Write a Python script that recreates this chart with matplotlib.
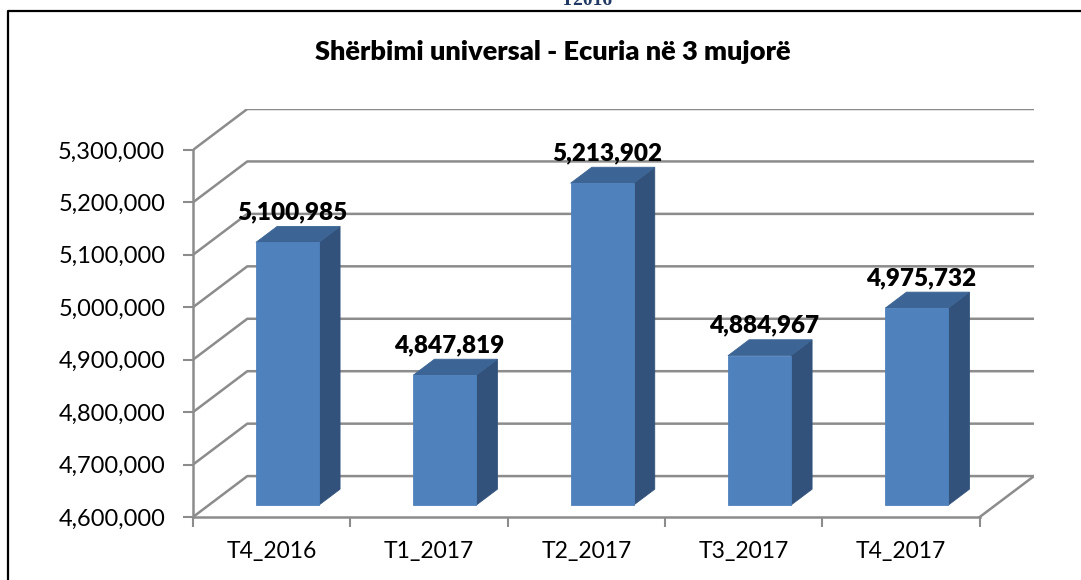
import matplotlib
matplotlib.use("Agg")
import matplotlib.pyplot as plt
from matplotlib.patches import Polygon
from matplotlib.lines import Line2D
from matplotlib.ticker import FixedLocator, FuncFormatter, NullFormatter

# ---------------------------------------------------------------------
# Datos
# ---------------------------------------------------------------------
categories = ["T4_2016", "T1_2017", "T2_2017", "T3_2017", "T4_2017"]
values = [5100985, 4847819, 5213902, 4884967, 4975732]
y_ticks = [4600000, 4700000, 4800000, 4900000, 5000000, 5100000, 5200000, 5300000]
title = "Shërbimi universal - Ecuria në 3 mujorë"
header_fragment = "T2016"

# ---------------------------------------------------------------------
# Estilo / geometría 3D falsa
# ---------------------------------------------------------------------
plt.rcParams["font.family"] = ["Lato", "DejaVu Sans"]

W, H = 1081, 580
DX = 0.345        # profundidad en unidades de categoría
DY = 78000        # profundidad en unidades de valor
F1, F2 = 0.29, 0.68   # cara frontal / trasera de las barras
BAR_W = 0.4
GRID_C = "#8c8c8c"
FRONT_C, SIDE_C, TOP_C = "#4f81bd", "#32527b", "#3c6595"

y0, y1 = y_ticks[0], y_ticks[-1]
n = len(categories)


def proj(x, y, d):
    """Proyecta un punto (x, y) a la profundidad d (0 frente, 1 fondo)."""
    return (x + d * DX, y + d * DY)


fig = plt.figure(figsize=(W / 100, H / 100), dpi=100)
ax = fig.add_axes([193 / W, (H - 517) / H, 841 / W, 408 / H])
ax.set_xlim(0, n + DX)
ax.set_ylim(y0, y1 + DY)

# pared de fondo + pared lateral
for v in y_ticks:
    xs, ys = zip(proj(0, v, 0), proj(0, v, 1), proj(n, v, 1))
    ax.plot(xs, ys, color=GRID_C, lw=1.8, zorder=1, solid_capstyle="butt")
# borde derecho del suelo
xs, ys = zip(proj(n, y0, 0), proj(n, y0, 1))
ax.plot(xs, ys, color=GRID_C, lw=1.8, zorder=1)

# barras 3D
for i, v in enumerate(values):
    xl, xr = i + 0.5 - BAR_W / 2, i + 0.5 + BAR_W / 2
    front = [proj(xl, y0, F1), proj(xr, y0, F1), proj(xr, v, F1), proj(xl, v, F1)]
    side = [proj(xr, y0, F1), proj(xr, y0, F2), proj(xr, v, F2), proj(xr, v, F1)]
    top = [proj(xl, v, F1), proj(xr, v, F1), proj(xr, v, F2), proj(xl, v, F2)]
    for pts, c in ((side, SIDE_C), (top, TOP_C), (front, FRONT_C)):
        ax.add_patch(Polygon(pts, closed=True, facecolor=c, edgecolor=c,
                             lw=0.6, zorder=3))
    lx, ly = proj(i + 0.53, v, F1)
    _, ly = proj(i, v, F2)
    ax.annotate(f"{v:,}", (lx, ly), xytext=(0, 5), textcoords="offset points",
                ha="center", va="baseline", fontsize=17.5, fontweight="heavy",
                color="black", zorder=5)

# ejes
for side in ("top", "right"):
    ax.spines[side].set_visible(False)
for side in ("left", "bottom"):
    ax.spines[side].set_color(GRID_C)
    ax.spines[side].set_linewidth(1.8)
ax.spines["left"].set_bounds(y0, y1)
ax.spines["bottom"].set_bounds(0, n)

ax.yaxis.set_major_locator(FixedLocator(y_ticks))
ax.yaxis.set_major_formatter(FuncFormatter(lambda v, p: f"{v:,.0f}"))
ax.tick_params(axis="y", length=7, width=1.5, color=GRID_C, pad=13,
               labelsize=17, labelcolor="black")

ax.xaxis.set_major_locator(FixedLocator(range(n + 1)))
ax.xaxis.set_major_formatter(NullFormatter())
ax.xaxis.set_minor_locator(FixedLocator([i + 0.5 for i in range(n)]))
ax.xaxis.set_minor_formatter(FuncFormatter(lambda x, p: categories[int(x)]))
ax.tick_params(axis="x", which="major", length=7, width=1.5, color=GRID_C)
ax.tick_params(axis="x", which="minor", length=0, pad=17, labelsize=16.5,
               labelcolor="black")

# título y marco
fig.text(553 / W, 1 - 60 / H, title, ha="center", va="baseline",
         fontsize=19.5, fontweight="heavy")
fig.text(587 / W, 1 - 5 / H, header_fragment, ha="center", va="baseline",
         fontsize=14, fontweight="bold", color="#1f3864", family="Liberation Serif")
fig.add_artist(Line2D([8 / W, 8 / W, 1], [0, 1 - 11 / H, 1 - 11 / H],
                      transform=fig.transFigure, color="black", lw=1.6))

fig.savefig("out.png", dpi=100)
